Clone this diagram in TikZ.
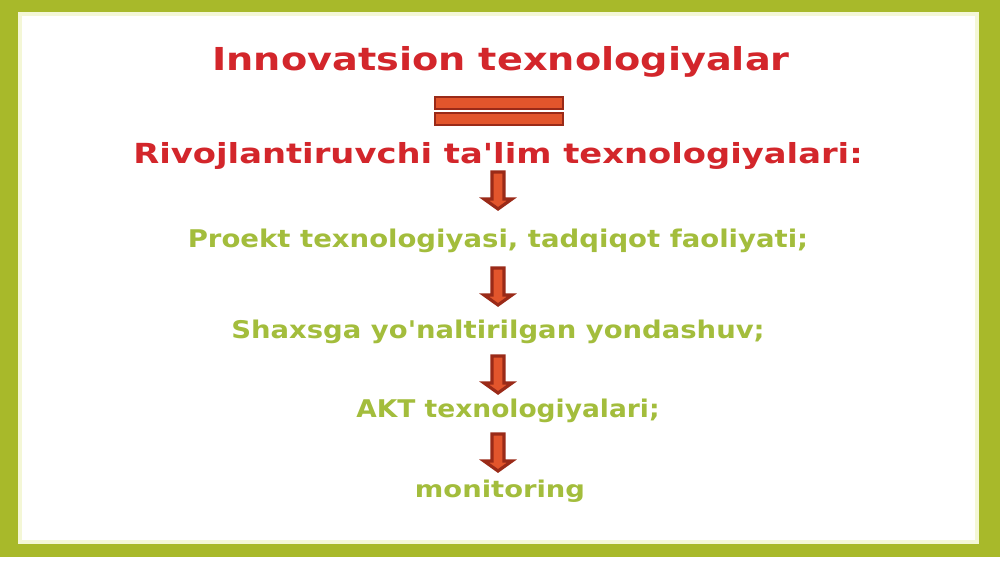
\documentclass[tikz,border=0pt]{standalone}
\usepackage{fontspec}
\setmainfont{DejaVu Sans}
\usepackage{graphicx}
\newcommand\sq{\XeTeXglyph\XeTeXcharglyph"27\relax}
\definecolor{framegreen}{HTML}{A8B92A}
\definecolor{titlered}{HTML}{D3262B}
\definecolor{textgreen}{HTML}{A3BD3C}
\definecolor{arrowfill}{HTML}{E2552C}
\definecolor{arrowline}{HTML}{9A2A18}
\definecolor{paleline}{HTML}{F4F7D6}
\tikzset{
  redtext/.style={anchor=base, inner sep=0pt, text=titlered, font=\bfseries},
  greentext/.style={anchor=base, inner sep=0pt, text=textgreen, font=\bfseries},
  barstyle/.style={fill=arrowfill, draw=arrowline, line width=0.8pt},
  blockarrow/.pic={
    \path[fill=arrowfill, draw=arrowline, line width=0.9pt]
      (-6,0) -- (6,0) -- (6,27) -- (14,27) -- (0,37) -- (-14,27) -- (-6,27) -- cycle;
  }
}
\begin{document}
\begin{tikzpicture}[x=0.01cm, y=-0.01cm]
\useasboundingbox (0,0) rectangle (1000,562);
\fill[white] (0,0) rectangle (1000,562);
\fill[framegreen] (0,0) rectangle (1000,557);
\fill[white] (19,13) rectangle (978,543);
\draw[paleline, line width=1pt] (20,14) rectangle (977,542);

\node[redtext] (title) at (501,71) {\resizebox{5.77cm}{0.24cm}{Innovatsion texnologiyalar}};
\path[barstyle] (435,97) rectangle (563,109);
\path[barstyle] (435,113) rectangle (563,125);
\node[redtext] (sub) at (498,164) {\resizebox{7.29cm}{0.21cm}{Rivojlantiruvchi ta\sq lim texnologiyalari:}};

\pic at (498,172) {blockarrow};
\node[greentext] (p1) at (498,248) {\resizebox{6.20cm}{0.185cm}{Proekt texnologiyasi, tadqiqot faoliyati;}};
\pic at (498,268) {blockarrow};
\node[greentext] (p2) at (498,339) {\resizebox{5.33cm}{0.185cm}{Shaxsga yo\sq naltirilgan yondashuv;}};
\pic at (498,356) {blockarrow};
\node[greentext] (p3) at (508,418) {\resizebox{3.03cm}{0.185cm}{AKT texnologiyalari;}};
\pic at (498,434) {blockarrow};
\node[greentext] (p4) at (500,498) {\resizebox{1.70cm}{0.175cm}{monitoring}};
\end{tikzpicture}
\end{document}
